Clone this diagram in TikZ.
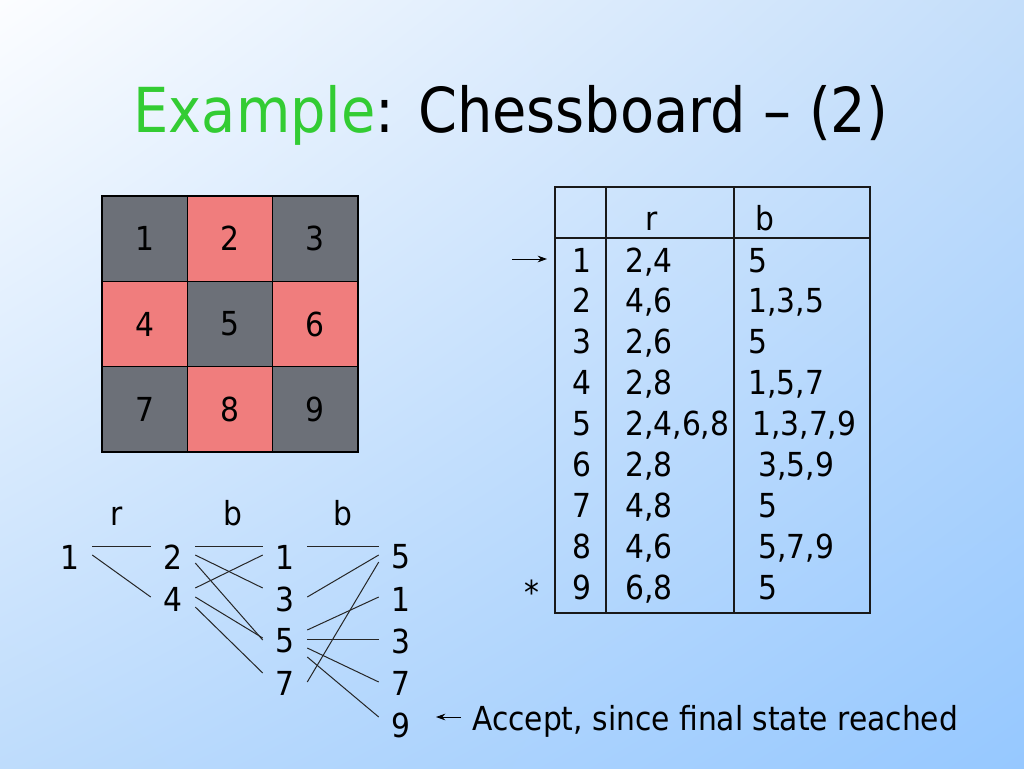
\documentclass[tikz,border=0pt]{standalone}
\usepackage{fontspec}
\setmainfont{DejaVu Sans Condensed}
\usetikzlibrary{arrows.meta,calc,shadings}
\usepackage{xcolor}
\definecolor{titlegreen}{RGB}{51,204,51}
\definecolor{sqgray}{RGB}{108,112,120}
\definecolor{sqpink}{RGB}{240,125,125}
\definecolor{bgtl}{RGB}{252,253,255}
\definecolor{bgtr}{RGB}{196,222,250}
\definecolor{bgbl}{RGB}{190,220,252}
\definecolor{bgbr}{RGB}{150,200,255}

\begin{document}
\begin{tikzpicture}[x=0.75pt,y=-0.75pt,
    every node/.style={font=\fontsize{24.8}{29}\selectfont},
    sq/.style={draw=black,line width=0.9pt,minimum size=64pt,inner sep=0pt},
    dk/.style={sq,fill=sqgray},
    pk/.style={sq,fill=sqpink},
    st/.style={minimum width=33pt,inner sep=0pt},
    cell/.style={inner sep=0pt},
    edge/.style={line width=0.75pt,draw=black!85},
    tbl/.style={line width=0.9pt,draw=black!90}]

    % background
    \shade[upper left=bgtl,upper right=bgtr,lower left=bgbl,lower right=bgbr]
        (0,0) rectangle (1024,768);
    \useasboundingbox (0,0) rectangle (1024,768);

    \node[anchor=base,font=\fontsize{46.5}{56}\selectfont] (title) at (511,132)
        {\textcolor{titlegreen}{Example}: Chessboard – (2)};

    % chessboard
    \foreach \n/\s [count=\k from 0] in {1/dk,2/pk,3/dk,4/pk,5/dk,6/pk,7/dk,8/pk,9/dk}
        \node[\s] (sq\n) at ({144.67+85.33*mod(\k,3)},{238.67+85.33*floor(\k/3)}) {\n};

    % tree of moves
    \node[anchor=base] (lr) at (117,525) {r};
    \node[anchor=base] (lb1) at (233,525) {b};
    \node[anchor=base] (lb2) at (343,525) {b};

    \node[st] (tA1) at (70,557) {1};
    \node[st] (tB2) at (173,557) {2};
    \node[st] (tB4) at (173,599) {4};
    \node[st] (tC1) at (285,557) {1};
    \node[st] (tC3) at (285,599) {3};
    \node[st] (tC5) at (285,641) {5};
    \node[st] (tC7) at (285,683) {7};
    \node[st] (tD5) at (401,557) {5};
    \node[st] (tD1) at (401,599) {1};
    \node[st] (tD3) at (401,641) {3};
    \node[st] (tD7) at (401,683) {7};
    \node[st] (tD9) at (401,725) {9};

    \foreach \f/\fy/\t/\ty in {tA1/-11/tB2/-11, tA1/-2/tB4/-2,
        tB2/-11/tC1/-11, tB2/-2/tC3/-11, tB2/6/tC5/-1,
        tB4/-11/tC1/-2, tB4/-2/tC5/-3, tB4/8/tC7/-10,
        tC1/-11/tD5/-11, tC3/-2/tD5/-2, tC7/-1/tD5/5,
        tC5/-11/tD1/-2, tC5/-2/tD3/-2, tC5/7/tD7/-1, tC5/16/tD9/-8}
        \draw[edge] ($(\f.east)+(0,\fy)$) -- ($(\t.west)+(0,\ty)$);

    % transition table
    \draw[tbl] (555,187) rectangle (870,613);
    \draw[tbl] (606,187) -- (606,613) (734,187) -- (734,613) (555,238) -- (870,238);
    \node[anchor=base,cell] (hr) at (652,230) {r};
    \node[anchor=base,cell] (hb) at (765,230) {b};

    \foreach \i/\r/\b/\bx in {1/{2,4}/{5}/748, 2/{4,6}/{1,3,5}/748,
        3/{2,6}/{5}/748, 4/{2,8}/{1,5,7}/748, 5/{2,4,6,8}/{1,3,7,9}/752,
        6/{2,8}/{3,5,9}/758, 7/{4,8}/{5}/758, 8/{4,6}/{5,7,9}/758,
        9/{6,8}/{5}/758}
    {
        \node[anchor=base,cell] (s\i) at (582,{272+40.9*(\i-1)}) {\i};
        \node[anchor=base west,cell] (r\i) at (625,{272+40.9*(\i-1)}) {\r};
        \node[anchor=base west,cell] (b\i) at (\bx,{272+40.9*(\i-1)}) {\b};
    }

    \coordinate (in0) at (512,259);
    \coordinate (in1) at (547,259);
    \draw[line width=0.7pt,-{Stealth[length=7pt,width=5pt]}] (in0) -- (in1);
    \node[anchor=base,cell] (fin) at (532,604) {*};

    % accepting path
    \coordinate (ac0) at (461,717);
    \coordinate (ac1) at (436,717);
    \draw[line width=0.7pt,-{Stealth[length=7pt,width=5pt]}] (ac0) -- (ac1);
    \node[anchor=base west,cell] (acc) at (472,730) {Accept, since final state reached};
\end{tikzpicture}
\end{document}
